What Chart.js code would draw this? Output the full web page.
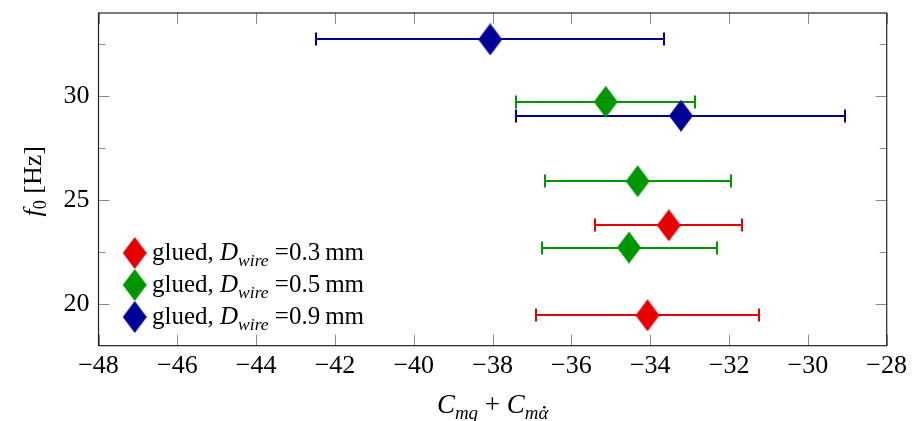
<!DOCTYPE html>
<html>
<head>
<meta charset="utf-8">
<script src="https://cdn.jsdelivr.net/npm/chart.js@4.4.1/dist/chart.umd.min.js"></script>
<style>
html, body { margin: 0; padding: 0; background: #fff; }
#wrap { width: 915px; height: 421px; }
</style>
</head>
<body>
<div id="wrap"><canvas id="fitChart"></canvas></div>
<script>
// glued, D_wire = 0.3 mm
var x03 = [-34.07, -33.53];
var y03 = [19.46, 23.79];
var lo03 = [-36.91, -35.39];
var hi03 = [-31.23, -31.66];

// glued, D_wire = 0.5 mm
var x05 = [-34.54, -34.32, -35.13];
var y05 = [22.72, 25.91, 29.73];
var lo05 = [-36.74, -36.68, -37.40];
var hi05 = [-32.31, -31.95, -32.86];

// glued, D_wire = 0.9 mm
var x09 = [-33.22, -38.06];
var y09 = [29.06, 32.73];
var lo09 = [-37.40, -42.49];
var hi09 = [-29.07, -33.65];

var wires = ['0.3', '0.5', '0.9'];
var colors = ['rgb(230,0,0)', 'rgb(0,150,0)', 'rgb(0,0,153)'];

var serif = '"Liberation Serif", "DejaVu Serif", serif';

function diamond(color) {
    var c = document.createElement('canvas');
    c.width = 24; c.height = 32;
    var g = c.getContext('2d');
    g.fillStyle = color;
    g.beginPath();
    g.moveTo(12, 0); g.lineTo(24, 16); g.lineTo(12, 32); g.lineTo(0, 16);
    g.closePath();
    g.fill();
    return c;
}

function pts(xs, ys, lo, hi) {
    return xs.map(function (v, i) { return { x: v, y: ys[i], lo: lo[i], hi: hi[i] }; });
}

var series = [pts(x03, y03, lo03, hi03), pts(x05, y05, lo05, hi05), pts(x09, y09, lo09, hi09)];

var datasets = series.map(function (d, i) {
    return {
        label: 'glued, D_wire =' + wires[i] + ' mm',
        data: d,
        pointStyle: diamond(colors[i]),
        backgroundColor: colors[i],
        borderColor: colors[i],
        showLine: false,
        order: 3 - i
    };
});

// writes text pieces: [text, italic, sub, dotAbove]
function runs(g, parts, x, y, size) {
    parts.forEach(function (p) {
        var fs = p[2] ? size * 0.7 : size;
        var by = y + (p[2] ? size * 0.22 : 0);
        g.font = (p[1] ? 'italic ' : '') + fs + 'px ' + serif;
        g.fillText(p[0], x, by);
        var w = g.measureText(p[0]).width;
        if (p[3]) {
            // dot over the last glyph (alpha-dot)
            var lw = g.measureText(p[0].slice(-1)).width;
            g.beginPath();
            g.arc(x + w - lw / 2 + 1, by - fs * 0.62, fs * 0.07, 0, Math.PI * 2);
            g.fill();
        }
        x += w;
    });
    return x;
}
function runsWidth(g, parts, size) {
    var w = 0;
    parts.forEach(function (p) {
        var fs = p[2] ? size * 0.7 : size;
        g.font = (p[1] ? 'italic ' : '') + fs + 'px ' + serif;
        w += g.measureText(p[0]).width;
    });
    return w;
}

var pgfLook = {
    id: 'pgfLook',
    beforeDatasetsDraw: function (chart) {
        var g = chart.ctx, xs = chart.scales.x, ys = chart.scales.y;
        g.save();
        g.lineWidth = 2;
        chart.data.datasets.forEach(function (ds, i) {
            g.strokeStyle = colors[i];
            ds.data.forEach(function (p) {
                var py = Math.round(ys.getPixelForValue(p.y));
                var a = Math.round(xs.getPixelForValue(p.lo)), b = Math.round(xs.getPixelForValue(p.hi));
                g.beginPath();
                g.moveTo(a, py); g.lineTo(b, py);
                g.moveTo(a, py - 6.5); g.lineTo(a, py + 6.5);
                g.moveTo(b, py - 6.5); g.lineTo(b, py + 6.5);
                g.stroke();
            });
        });
        g.restore();
    },
    afterDraw: function (chart) {
        var g = chart.ctx, a = chart.chartArea, xs = chart.scales.x, ys = chart.scales.y;
        g.save();
        // inner ticks
        g.strokeStyle = '#8a8a8a';
        g.lineWidth = 1;
        xs.ticks.forEach(function (t) {
            var px = Math.round(xs.getPixelForValue(t.value)) + 0.5;
            g.beginPath();
            g.moveTo(px, a.bottom); g.lineTo(px, a.bottom - 11);
            g.moveTo(px, a.top); g.lineTo(px, a.top + 11);
            g.stroke();
        });
        ys.ticks.forEach(function (t) {
            if (t.value <= ys.min || t.value >= ys.max) return;
            var len = t.value % 5 === 0 ? 11 : 7;
            var py = Math.round(ys.getPixelForValue(t.value)) + 0.5;
            g.beginPath();
            g.moveTo(a.left, py); g.lineTo(a.left + len, py);
            g.moveTo(a.right, py); g.lineTo(a.right - len, py);
            g.stroke();
        });
        // frame
        g.strokeStyle = '#222';
        g.lineWidth = 1.2;
        g.strokeRect(a.left, a.top, a.right - a.left, a.bottom - a.top);

        g.fillStyle = '#000';
        g.textBaseline = 'alphabetic';
        g.textAlign = 'left';
        // x title
        var xt = [['C', true, false], ['mq', true, true], [' + ', false, false], ['C', true, false], ['m\u03B1', true, true, true]];
        var w = runsWidth(g, xt, 27);
        runs(g, xt, (a.left + a.right) / 2 - w / 2, 413, 27);
        // y title
        var yt = [['f', true, false], ['0', false, true], [' [Hz]', false, false]];
        g.save();
        g.translate(40.5, (a.top + a.bottom) / 2 + 2);
        g.rotate(-Math.PI / 2);
        w = runsWidth(g, yt, 26);
        runs(g, yt, -w / 2, 0, 26);
        g.restore();
        // legend
        chart.data.datasets.forEach(function (ds, i) {
            var cy = 253 + 32 * i;
            g.drawImage(ds.pointStyle, 134.7 - 12, cy - 16);
            runs(g, [['glued, ', false, false], ['D', true, false], ['wire', true, true],
                     [' =' + wires[i] + '\u2009', false, false], ['mm', false, false]], 152, cy + 7, 25);
        });
        g.restore();
    }
};

var ctx = document.getElementById('fitChart').getContext('2d');
var fitChart = new Chart(ctx, {
    type: 'scatter',
    data: { datasets: datasets },
    options: {
        responsive: true,
        maintainAspectRatio: false,
        animation: false,
        layout: { padding: { top: 12, right: 28.3, left: 0, bottom: 0 } },
        elements: { point: { radius: 12, hoverRadius: 12 } },
        plugins: { legend: { display: false }, tooltip: { enabled: false } },
        scales: {
            x: {
                type: 'linear',
                min: -48, max: -28,
                grid: { display: false, drawTicks: false },
                border: { display: false },
                afterFit: function (s) {
                    s.height = 75.3;
                    s.paddingLeft = 0; s.paddingRight = 0;
                },
                ticks: {
                    stepSize: 2,
                    padding: 5,
                    color: '#000',
                    font: { family: serif, size: 26 },
                    callback: function (v) { return v < 0 ? '\u2212' + Math.abs(v) : '' + v; }
                }
            },
            y: {
                type: 'linear',
                min: 18, max: 34,
                grid: { display: false, drawTicks: false },
                border: { display: false },
                afterFit: function (s) {
                    s.width = 98.5;
                    s.paddingTop = 0; s.paddingBottom = 0;
                },
                ticks: {
                    stepSize: 2.5,
                    padding: 9,
                    color: '#000',
                    font: { family: serif, size: 26 },
                    autoSkip: false,
                    callback: function (v) { return v % 5 === 0 ? '' + v : ''; }
                }
            }
        }
    },
    plugins: [pgfLook]
});
</script>
</body>
</html>
